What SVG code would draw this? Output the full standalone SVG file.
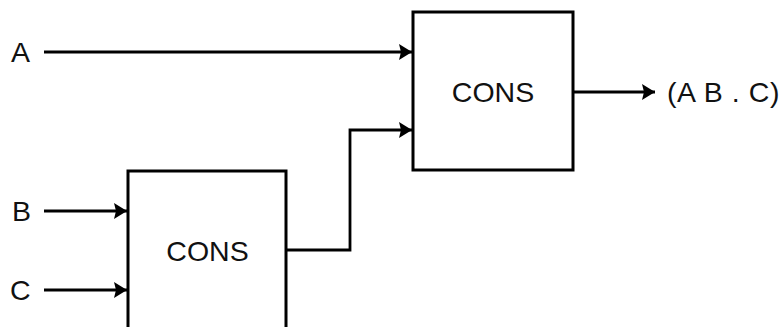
<svg xmlns="http://www.w3.org/2000/svg" width="783" height="327" viewBox="0 0 783 327">
  <style>
    .box { fill: #ffffff; stroke: #000000; stroke-width: 3; }
    .wire { fill: none; stroke: #000000; stroke-width: 2.8; }
    .lbl { font-family: "Liberation Sans", Arial, sans-serif; font-size: 28.5px; fill: #111111; }
    .ctr { text-anchor: middle; }
  </style>
  <defs>
    <marker id="arrow" markerUnits="userSpaceOnUse" markerWidth="16" markerHeight="18" refX="13" refY="9" orient="auto">
      <path d="M0,1 L13,9 L0,17 L2,9 Z" fill="#000000"/>
    </marker>
  </defs>
  <rect width="783" height="327" fill="#ffffff"/>
  <g id="cons-top">
    <rect class="box" x="413" y="12" width="160" height="158"/>
    <text class="lbl ctr" x="493" y="102">CONS</text>
  </g>
  <g id="cons-bottom">
    <rect class="box" x="128" y="171" width="158" height="170"/>
    <text class="lbl ctr" x="207.5" y="261">CONS</text>
  </g>
  <g id="label-a"><text class="lbl" x="11" y="62">A</text></g>
  <g id="label-b"><text class="lbl" x="12" y="221">B</text></g>
  <g id="label-c"><text class="lbl" x="10" y="300">C</text></g>
  <g id="label-out"><text class="lbl" x="667" y="102" letter-spacing="0.6">(A B . C)</text></g>
  <g id="connectors">
    <path class="wire" d="M44,52 H412" marker-end="url(#arrow)"/>
    <path class="wire" d="M44,211 H127" marker-end="url(#arrow)"/>
    <path class="wire" d="M44,290 H127" marker-end="url(#arrow)"/>
    <path class="wire" d="M286,250 H350 V130 H412" marker-end="url(#arrow)"/>
    <path class="wire" d="M573,92 H655" marker-end="url(#arrow)"/>
  </g>
</svg>
